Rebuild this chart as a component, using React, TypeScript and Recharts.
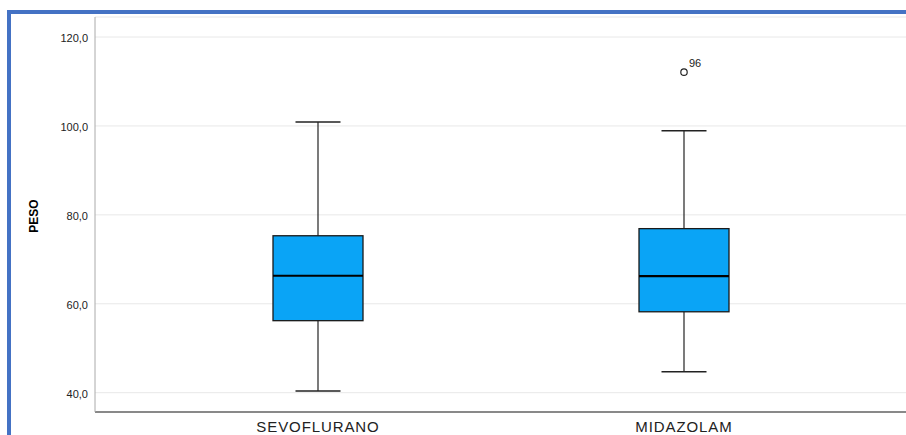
import { ComposedChart, Bar, Scatter, XAxis, YAxis, CartesianGrid } from 'recharts';

// five-number summaries per group (PESO)
const groups = ['SEVOFLURANO', 'MIDAZOLAM'];
const whiskerLow = [40.4, 44.7];
const q1 = [56.2, 58.2];
const median = [66.3, 66.2];
const q3 = [75.3, 76.9];
const whiskerHigh = [100.9, 98.9];
const outliers = [null, 112.1];
const outlierCase = [null, '96'];

const yTicks = [40, 60, 80, 100, 120];

const data = groups.map((name, i) => ({
  name,
  range: [whiskerLow[i], whiskerHigh[i]],
  min: whiskerLow[i],
  q1: q1[i],
  median: median[i],
  q3: q3[i],
  max: whiskerHigh[i],
  outlier: outliers[i],
  caseId: outlierCase[i],
}));

const BOX_FILL = '#0aa4f6';

const BoxShape = (props: any) => {
  const { x, y, width, height, payload } = props;
  if (!payload || !isFinite(y) || !isFinite(height)) return <g />;
  const top = Math.min(y, y + height);
  const h = Math.abs(height);
  const k = h / (payload.max - payload.min);
  const yOf = (v: number) => top + (payload.max - v) * k;
  const cx = x + width / 2;
  const capHalf = width / 4;
  return (
    <g>
      <line x1={cx} x2={cx} y1={yOf(payload.max)} y2={yOf(payload.q3)} stroke="#222" strokeWidth={1.2} />
      <line x1={cx} x2={cx} y1={yOf(payload.q1)} y2={yOf(payload.min)} stroke="#222" strokeWidth={1.2} />
      <line x1={cx - capHalf} x2={cx + capHalf} y1={yOf(payload.max)} y2={yOf(payload.max)} stroke="#222" strokeWidth={1.4} />
      <line x1={cx - capHalf} x2={cx + capHalf} y1={yOf(payload.min)} y2={yOf(payload.min)} stroke="#222" strokeWidth={1.4} />
      <rect
        x={x}
        y={yOf(payload.q3)}
        width={width}
        height={yOf(payload.q1) - yOf(payload.q3)}
        fill={BOX_FILL}
        stroke="#1a1a1a"
        strokeWidth={1.3}
      />
      <line x1={x} x2={x + width} y1={yOf(payload.median)} y2={yOf(payload.median)} stroke="#000" strokeWidth={2.2} />
    </g>
  );
};

const OutlierShape = (props: any) => {
  const { cx, cy, payload } = props;
  if (!payload || payload.outlier == null || !isFinite(cx) || !isFinite(cy)) return <g />;
  return (
    <g>
      <circle cx={cx} cy={cy} r={3.2} fill="none" stroke="#222" strokeWidth={1.2} />
      <text x={cx + 5} y={cy - 5} fontSize={11} fill="#222" fontFamily="Liberation Sans, Arial, sans-serif">
        {payload.caseId}
      </text>
    </g>
  );
};

const GroupTick = (props: any) => {
  const { x, payload } = props;
  return (
    <text
      x={x}
      y={432}
      textAnchor="middle"
      fontSize={15}
      letterSpacing={0.9}
      fill="#222"
      fontFamily="Liberation Sans, Arial, sans-serif"
    >
      {payload.value}
    </text>
  );
};

const App = () => {
  return (
    <div
      style={{
        position: 'fixed',
        left: 0,
        top: 0,
        width: 906,
        height: 435,
        overflow: 'hidden',
        background: '#fff',
        fontFamily: 'Liberation Sans, Arial, sans-serif',
      }}
    >
      <div
        style={{
          position: 'absolute',
          left: 7,
          top: 10,
          width: 1200,
          height: 1200,
          borderTop: '4px solid #4472c4',
          borderLeft: '4px solid #4472c4',
        }}
      />
      <div style={{ position: 'absolute', left: 0, top: 0 }}>
        <ComposedChart
          width={906}
          height={435}
          data={data}
          margin={{ top: 17, right: 0, bottom: 0, left: 0 }}
          style={{ overflow: 'visible' }}
        >
          <CartesianGrid vertical={false} stroke="#e8e8e8" />
          <XAxis
            dataKey="name"
            height={23}
            padding={{ left: 40, right: 39 }}
            tickLine={false}
            tickSize={0}
            axisLine={{ stroke: '#666', strokeWidth: 1.5 }}
            tick={<GroupTick />}
          />
          <YAxis
            width={95}
            domain={[35.66, 124.5]}
            ticks={yTicks}
            tickLine={false}
            tickSize={0}
            tickMargin={7}
            axisLine={{ stroke: '#aaa' }}
            tick={{ fontSize: 11, fill: '#222', dy: 1.5 }}
            tickFormatter={(v: number) => v.toFixed(1).replace('.', ',')}
            allowDataOverflow
            label={{
              content: () => (
                <text
                  x={37.5}
                  y={216}
                  transform="rotate(-90 37.5 216)"
                  textAnchor="middle"
                  fontSize={12}
                  fontWeight="bold"
                  fill="#000"
                >
                  PESO
                </text>
              ),
            }}
          />
          <Bar dataKey="range" barSize={90} shape={<BoxShape />} isAnimationActive={false} />
          <Scatter dataKey="outlier" shape={<OutlierShape />} isAnimationActive={false} />
        </ComposedChart>
      </div>
    </div>
  );
};

export default App;
